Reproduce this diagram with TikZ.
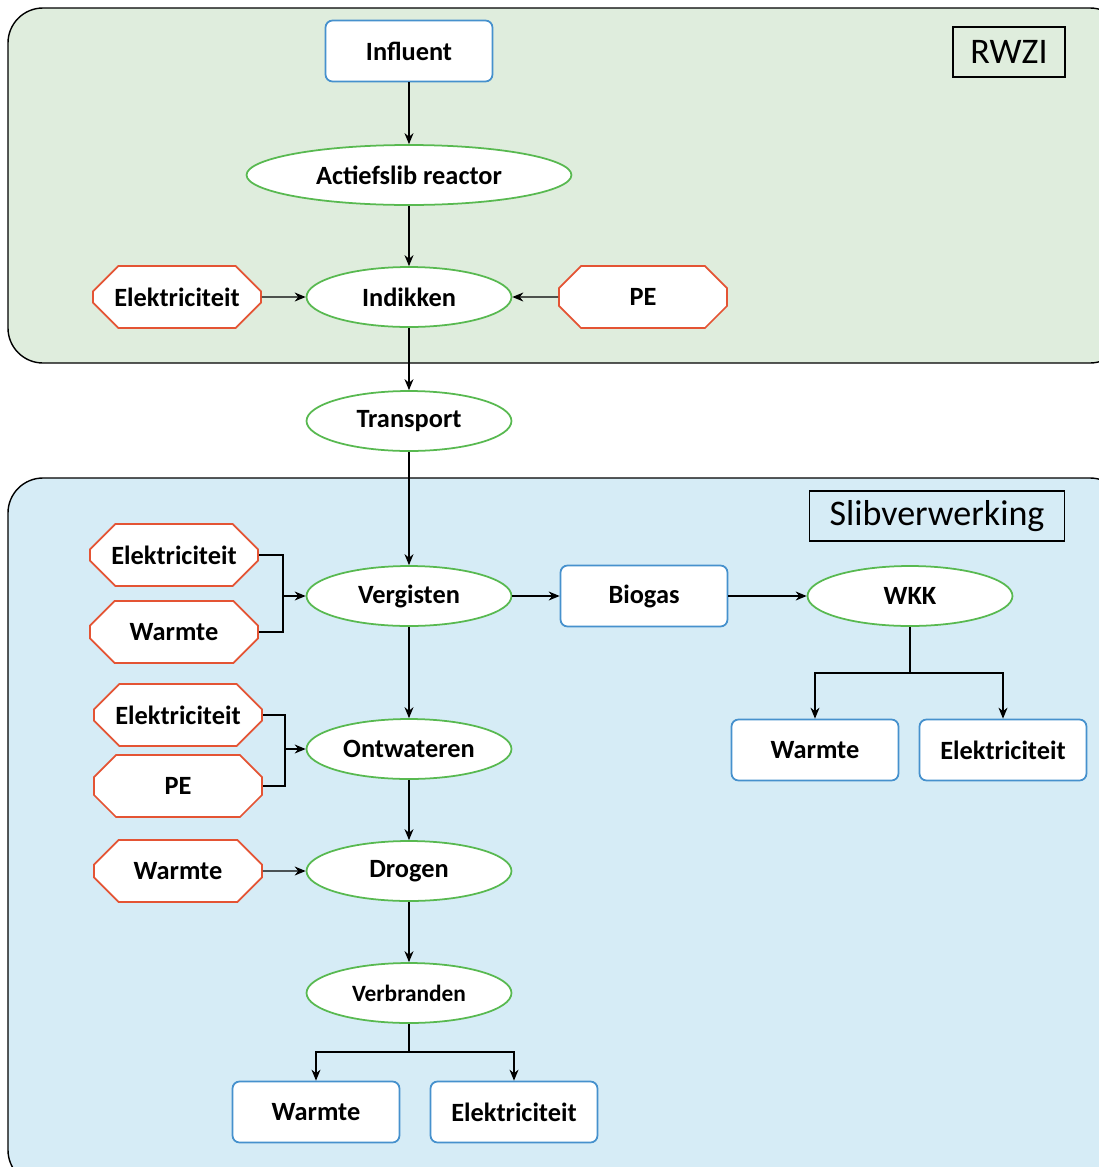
\documentclass[tikz,border=0pt]{standalone}
\usepackage{fontspec}
\setmainfont{Carlito}
\usepackage{xcolor}
\usepackage{tikz}
\usetikzlibrary{arrows.meta,shapes.geometric,shapes.misc}
\definecolor{rwzigreen}{RGB}{223,237,221}
\definecolor{slibblue}{RGB}{214,236,246}
\definecolor{ellgreen}{RGB}{88,185,80}
\definecolor{octred}{RGB}{228,84,52}
\definecolor{boxblue}{RGB}{70,145,205}
\tikzset{
  >={Stealth[length=2.2mm, width=1.8mm]},
  proc/.style={draw=ellgreen, line width=1pt, ellipse, fill=white, align=center, font=\bfseries\fontsize{15}{18}\selectfont, minimum width=41mm, minimum height=12mm, inner sep=0pt},
  inp/.style={draw=octred, line width=1pt, chamfered rectangle, chamfered rectangle sep=3.2mm, fill=white, align=center, font=\bfseries\fontsize{15}{18}\selectfont, minimum width=33.6mm, minimum height=12.4mm, inner sep=0pt},
  res/.style={draw=boxblue, line width=1pt, rounded corners=4pt, fill=white, align=center, font=\bfseries\fontsize{15}{18}\selectfont, minimum width=33.4mm, minimum height=12.2mm, inner sep=0pt},
  panel/.style={draw, line width=0.8pt, rounded corners=7mm},
  tag/.style={draw, line width=0.8pt, font=\fontsize{20.5}{24}\selectfont, inner sep=0pt},
  flow/.style={->, line width=0.7pt},
}
\begin{document}
\begin{tikzpicture}[x=0.02cm, y=-0.02cm]
  \clip (0,0) rectangle (1099,1167);
  \fill[white] (0,0) rectangle (1099,1167);
  \draw[panel, fill=rwzigreen] (8,8) rectangle (1125,363);
  \draw[panel, fill=slibblue] (8,478) rectangle (1125,1185);
  \node[tag, minimum width=22.4mm, minimum height=10mm] (rwzi) at (1009,52) {RWZI};
  \node[tag, minimum width=51mm, minimum height=10mm] (slib) at (937,516) {Slibverwerking};

  \node[res, minimum height=12.2mm] (infl) at (409,51) {Influent};
  \node[proc, minimum width=65mm] (act) at (409,175) {Actiefslib reactor};
  \node[proc] (indik) at (409,297) {Indikken};
  \node[inp] (el1) at (177,297) {Elektriciteit};
  \node[inp] (pe1) at (643,297) {PE};
  \node[proc] (trans) at (409,421) {Transport};

  \node[proc] (verg) at (409,596) {Vergisten};
  \node[inp] (el2) at (174,555) {Elektriciteit};
  \node[inp] (warm2) at (174,632) {Warmte};
  \node[res] (bio) at (644,596) {Biogas};
  \node[proc] (wkk) at (910,596) {WKK};
  \node[res] (warm3) at (815,750) {Warmte};
  \node[res] (el3) at (1003,750) {Elektriciteit};

  \node[proc] (ontw) at (409,749) {Ontwateren};
  \node[inp] (el4) at (178,715) {Elektriciteit};
  \node[inp] (pe2) at (178,786) {PE};
  \node[proc] (drog) at (409,871) {Drogen};
  \node[inp] (warm4) at (178,871) {Warmte};
  \node[proc, font=\bfseries\fontsize{13.3}{16}\selectfont] (verbr) at (409,993) {Verbranden};
  \node[res] (warm5) at (316,1112) {Warmte};
  \node[res] (el5) at (514,1112) {Elektriciteit};

  \coordinate (j1) at (283,596);
  \coordinate (j2) at (910,673);
  \coordinate (j3) at (285,749);
  \coordinate (j4) at (409,1052);

  \draw[flow] (infl) -- (act);
  \draw[flow] (act) -- (indik);
  \draw[flow] (el1) -- (indik);
  \draw[flow] (pe1) -- (indik);
  \draw[flow] (indik) -- (trans);
  \draw[flow] (trans) -- (verg);
  \draw[line width=0.7pt] (el2.east) -| (j1) |- (warm2.east);
  \draw[flow] (j1) -- (verg);
  \draw[flow] (verg) -- (bio);
  \draw[flow] (bio) -- (wkk);
  \draw[line width=0.7pt] (wkk) -- (j2);
  \draw[flow] (j2) -| (warm3);
  \draw[flow] (j2) -| (el3);
  \draw[flow] (verg) -- (ontw);
  \draw[line width=0.7pt] (el4.east) -| (j3) |- (pe2.east);
  \draw[flow] (j3) -- (ontw);
  \draw[flow] (ontw) -- (drog);
  \draw[flow] (warm4) -- (drog);
  \draw[flow] (drog) -- (verbr);
  \draw[line width=0.7pt] (verbr) -- (j4);
  \draw[flow] (j4) -| (warm5);
  \draw[flow] (j4) -| (el5);
\end{tikzpicture}
\end{document}
